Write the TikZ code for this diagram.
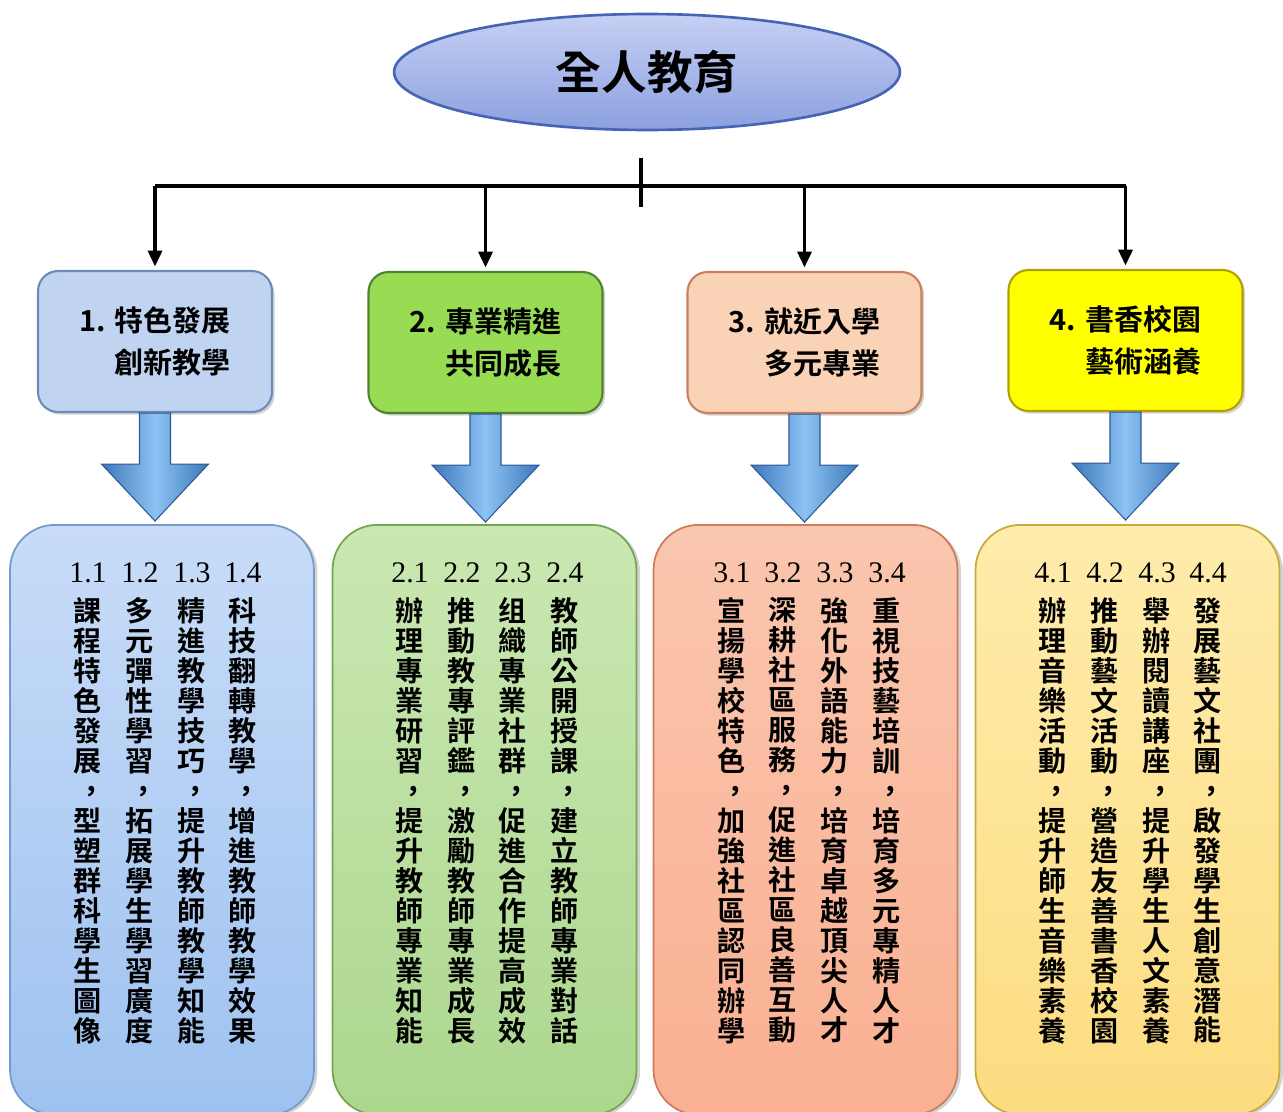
\documentclass[tikz,border=0pt]{standalone}
\usepackage{fontspec}
\setmainfont{Liberation Serif}
\newfontfamily\cjkbold{Noto Sans CJK TC Bold}
\usetikzlibrary{arrows.meta,shapes.geometric,shadows}

\newcommand\vcomma{\makebox[1em][l]{\kern0.14em，}}

\definecolor{ellTop}{RGB}{198,208,244}
\definecolor{ellBot}{RGB}{140,160,224}
\definecolor{ellEdge}{RGB}{70,100,180}
\definecolor{boxA}{RGB}{192,212,242}
\definecolor{boxAedge}{RGB}{105,140,185}
\definecolor{boxB}{RGB}{152,220,84}
\definecolor{boxBedge}{RGB}{80,130,50}
\definecolor{boxC}{RGB}{250,210,182}
\definecolor{boxCedge}{RGB}{200,128,96}
\definecolor{boxD}{RGB}{255,255,0}
\definecolor{boxDedge}{RGB}{180,160,0}
\definecolor{panATop}{RGB}{200,220,248}
\definecolor{panABot}{RGB}{158,194,240}
\definecolor{panAedge}{RGB}{115,155,205}
\definecolor{panBTop}{RGB}{202,232,178}
\definecolor{panBBot}{RGB}{172,215,142}
\definecolor{panBedge}{RGB}{115,165,85}
\definecolor{panCTop}{RGB}{250,198,174}
\definecolor{panCBot}{RGB}{250,176,146}
\definecolor{panCedge}{RGB}{205,125,95}
\definecolor{panDTop}{RGB}{255,236,172}
\definecolor{panDBot}{RGB}{252,220,128}
\definecolor{panDedge}{RGB}{200,170,60}
\definecolor{arrowDark}{RGB}{62,120,186}
\definecolor{arrowLight}{RGB}{140,194,244}
\definecolor{arrowEdge}{RGB}{45,88,148}

\begin{document}
\begin{tikzpicture}[x=0.02cm,y=-0.02cm,
  topbox/.style={draw,line width=1.2pt,rounded corners=0.4cm,minimum width=4.68cm,minimum height=2.82cm,
    align=right,font=\cjkbold\fontsize{16.5}{23.8}\selectfont,
    drop shadow={opacity=0.35,shadow xshift=1.5pt,shadow yshift=-1.5pt}},
  panel/.style={draw,line width=1pt,rounded corners=0.9cm,minimum width=6.08cm,minimum height=11.8cm,anchor=north,
    drop shadow={opacity=0.35,shadow xshift=2pt,shadow yshift=-1pt}},
  numlabel/.style={inner sep=0pt,font=\fontsize{17}{17}\selectfont},
  colchar/.style={anchor=north,inner sep=0pt,align=center,font=\cjkbold\fontsize{16}{17.07}\selectfont},
  drop/.style={line width=1.8pt,-{Triangle[length=9pt,width=8pt]},shorten >=2pt},
  blockarrow/.style={draw=arrowEdge,line width=0.6pt,left color=arrowDark,right color=arrowDark,middle color=arrowLight}
  ]

  \useasboundingbox (0,0) rectangle (1283,1111);

  \node[ellipse,draw=ellEdge,line width=1.5pt,top color=ellTop,bottom color=ellBot,minimum width=10.12cm,minimum height=2.32cm,
    font=\cjkbold\fontsize{26}{26}\selectfont] (root) at (647,72) {全人教育};

  \node[topbox,fill=boxA,draw=boxAedge] (b1) at (155,341.5) {1. 特色發展\\創新教學};
  \node[topbox,fill=boxB,draw=boxBedge] (b2) at (485.5,342.5) {2. 專業精進\\共同成長};
  \node[topbox,fill=boxC,draw=boxCedge] (b3) at (804.5,342.5) {3. 就近入學\\多元專業};
  \node[topbox,fill=boxD,draw=boxDedge] (b4) at (1125.5,340.5) {4. 書香校園\\藝術涵養};

  \coordinate (t1) at (641,158);
  \coordinate (t2) at (641,207);
  \coordinate (bar) at (641,186);
  \draw[line width=2.3pt] (t1) -- (t2);
  \draw[line width=2pt] (b1.north |- bar) -- (b4.north |- bar);
  \foreach \b in {b1,b2,b3,b4}
    \draw[drop] (\b.north |- bar) -- (\b.north);

  \foreach \b in {b1,b2,b3,b4}
    \draw[blockarrow,shift={(\b.south)}] (-15.5,0) -- (-15.5,51) -- (-53.5,51) -- (0,108) -- (53.5,51) -- (15.5,51) -- (15.5,0) -- cycle;

  \node[panel,top color=panATop,bottom color=panABot,draw=panAedge] (p1) at (162,524) {};
  \node[panel,top color=panBTop,bottom color=panBBot,draw=panBedge] (p2) at (484.5,524) {};
  \node[panel,top color=panCTop,bottom color=panCBot,draw=panCedge] (p3) at (805.5,524) {};
  \node[panel,top color=panDTop,bottom color=panDBot,draw=panDedge] (p4) at (1127.5,524) {};

  \node[numlabel] (n11) at (88,573) {1.1};
  \node[numlabel] (n12) at (140,573) {1.2};
  \node[numlabel] (n13) at (192,573) {1.3};
  \node[numlabel] (n14) at (243,573) {1.4};
  \node[numlabel] (n21) at (410,573) {2.1};
  \node[numlabel] (n22) at (462,573) {2.2};
  \node[numlabel] (n23) at (513,573) {2.3};
  \node[numlabel] (n24) at (565,573) {2.4};
  \node[numlabel] (n31) at (732,573) {3.1};
  \node[numlabel] (n32) at (783,573) {3.2};
  \node[numlabel] (n33) at (835,573) {3.3};
  \node[numlabel] (n34) at (887,573) {3.4};
  \node[numlabel] (n41) at (1053,573) {4.1};
  \node[numlabel] (n42) at (1105,573) {4.2};
  \node[numlabel] (n43) at (1157,573) {4.3};
  \node[numlabel] (n44) at (1208,573) {4.4};

  \node[colchar] (c11) at (88,597) {課\\程\\特\\色\\發\\展\\\vcomma\\型\\塑\\群\\科\\學\\生\\圖\\像};
  \node[colchar] (c12) at (140,597) {多\\元\\彈\\性\\學\\習\\\vcomma\\拓\\展\\學\\生\\學\\習\\廣\\度};
  \node[colchar] (c13) at (192,597) {精\\進\\教\\學\\技\\巧\\\vcomma\\提\\升\\教\\師\\教\\學\\知\\能};
  \node[colchar] (c14) at (243,597) {科\\技\\翻\\轉\\教\\學\\\vcomma\\增\\進\\教\\師\\教\\學\\效\\果};
  \node[colchar] (c21) at (410,597) {辦\\理\\專\\業\\研\\習\\\vcomma\\提\\升\\教\\師\\專\\業\\知\\能};
  \node[colchar] (c22) at (462,597) {推\\動\\教\\專\\評\\鑑\\\vcomma\\激\\勵\\教\\師\\專\\業\\成\\長};
  \node[colchar] (c23) at (513,597) {组\\織\\專\\業\\社\\群\\\vcomma\\促\\進\\合\\作\\提\\高\\成\\效};
  \node[colchar] (c24) at (565,597) {教\\師\\公\\開\\授\\課\\\vcomma\\建\\立\\教\\師\\專\\業\\對\\話};
  \node[colchar] (c31) at (732,597) {宣\\揚\\學\\校\\特\\色\\\vcomma\\加\\強\\社\\區\\認\\同\\辦\\學};
  \node[colchar] (c32) at (783,597) {深\\耕\\社\\區\\服\\務\\\vcomma\\促\\進\\社\\區\\良\\善\\互\\動};
  \node[colchar] (c33) at (835,597) {強\\化\\外\\語\\能\\力\\\vcomma\\培\\育\\卓\\越\\頂\\尖\\人\\才};
  \node[colchar] (c34) at (887,597) {重\\視\\技\\藝\\培\\訓\\\vcomma\\培\\育\\多\\元\\專\\精\\人\\才};
  \node[colchar] (c41) at (1053,597) {辦\\理\\音\\樂\\活\\動\\\vcomma\\提\\升\\師\\生\\音\\樂\\素\\養};
  \node[colchar] (c42) at (1105,597) {推\\動\\藝\\文\\活\\動\\\vcomma\\營\\造\\友\\善\\書\\香\\校\\園};
  \node[colchar] (c43) at (1157,597) {舉\\辦\\閱\\讀\\講\\座\\\vcomma\\提\\升\\學\\生\\人\\文\\素\\養};
  \node[colchar] (c44) at (1208,597) {發\\展\\藝\\文\\社\\團\\\vcomma\\啟\\發\\學\\生\\創\\意\\潛\\能};

\end{tikzpicture}
\end{document}
